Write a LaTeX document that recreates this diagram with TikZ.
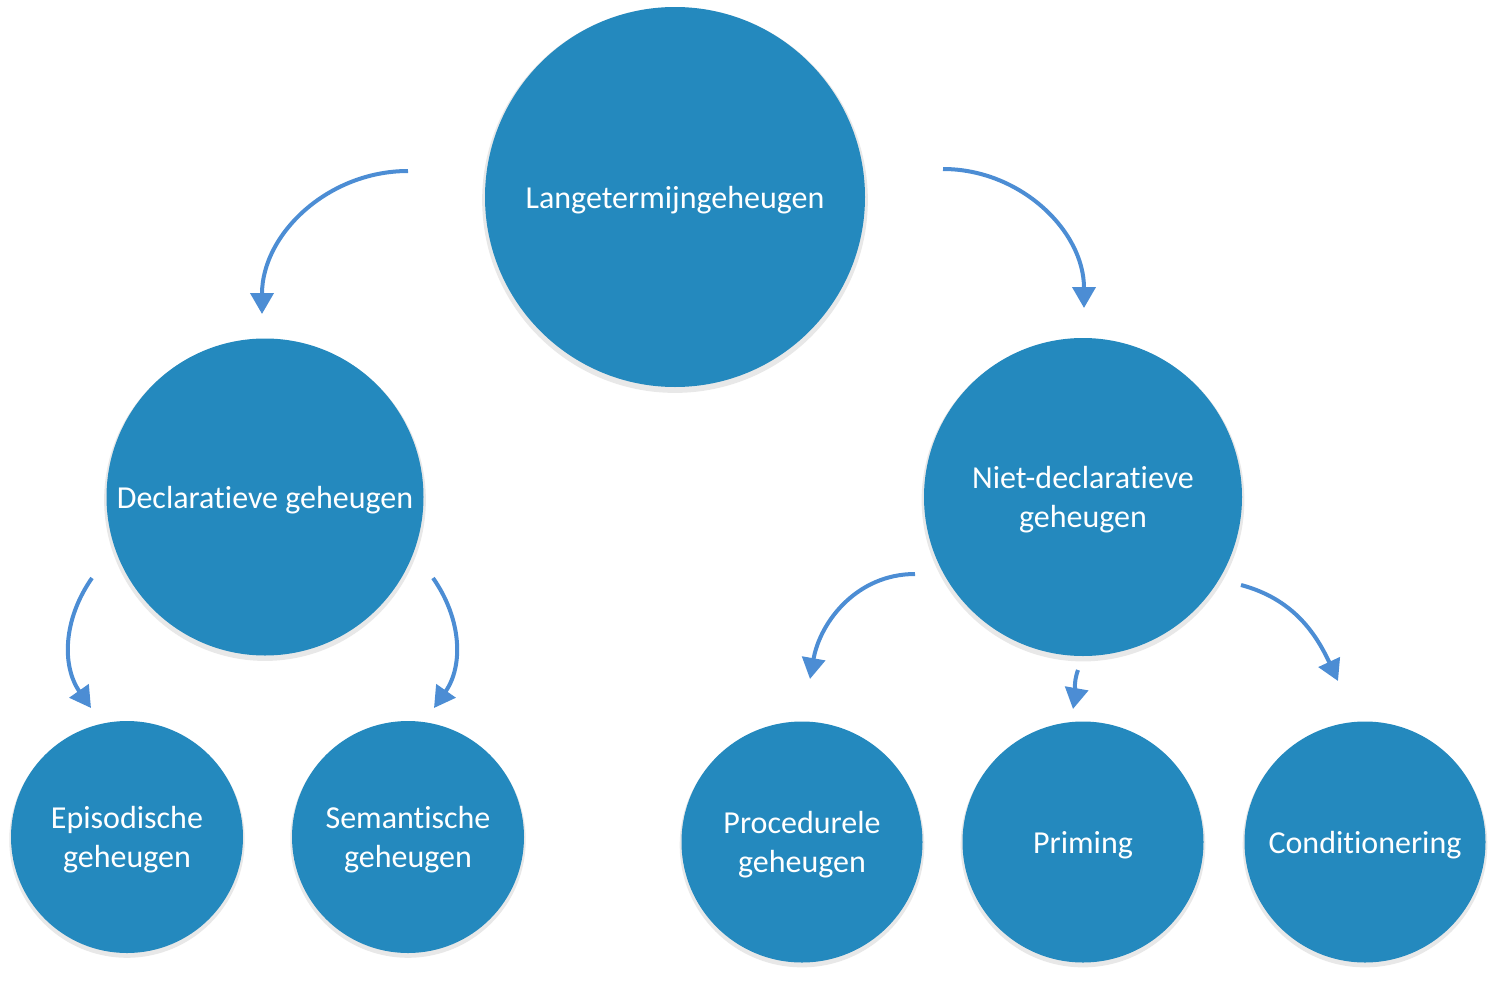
\documentclass[tikz,border=0pt]{standalone}
\usepackage{fontspec}
\setmainfont{Carlito}[Ligatures=NoCommon,RawFeature={-liga;-clig;-dlig}]
\usetikzlibrary{arrows.meta,shadows}
\definecolor{circblue}{RGB}{36,137,190}
\definecolor{arrblue}{RGB}{76,141,212}
\newcommand\myNoLig{\kern0pt}
\begin{document}
\begin{tikzpicture}[x=1pt,y=-1pt,
  bubble/.style={circle,fill=circblue,inner sep=0pt,align=center,text=white,
    text depth=0pt,
    font=\fontsize{32}{39}\selectfont,
    drop shadow={shadow xshift=0pt,shadow yshift=-3pt,opacity=0.18,shadow scale=1.015}},
  link/.style={draw=arrblue,line width=4pt,-{Triangle[length=21pt,width=23pt]}}]
\useasboundingbox (0,0) rectangle (1500,983);
\node[bubble,minimum size=380pt] (ltm) at (675,197) {Langetermijngeheugen};
\node[bubble,minimum size=317pt] (decl) at (265,497) {Declarat\myNoLig ieve geheugen};
\node[bubble,minimum size=318pt] (ndecl) at (1083,497) {Niet-declarat\myNoLig ieve\\geheugen};
\node[bubble,minimum size=232pt] (epi) at (127,837) {Episodische\\geheugen};
\node[bubble,minimum size=232pt] (sem) at (408,837) {Semant\myNoLig ische\\geheugen};
\node[bubble,minimum size=241pt] (proc) at (802,842) {Procedurele\\geheugen};
\node[bubble,minimum size=241pt] (prim) at (1083,842) {Priming};
\node[bubble,minimum size=241pt] (cond) at (1365,842) {Condit\myNoLig ionering};
% arrow end points
\coordinate (a1s) at (408,171); \coordinate (a1e) at (262,314);
\coordinate (a2s) at (943,169); \coordinate (a2e) at (1084,308);
\coordinate (a3s) at (92,578);  \coordinate (a3e) at (91,708);
\coordinate (a4s) at (433,578); \coordinate (a4e) at (434,708);
\coordinate (a5s) at (915,574); \coordinate (a5e) at (810,679);
\coordinate (a6s) at (1078,670); \coordinate (a6e) at (1073,709);
\coordinate (a7s) at (1241,585); \coordinate (a7e) at (1338,681);
\draw[link] (a1s) to[out=180,in=90] (a1e);
\draw[link] (a2s) to[out=0,in=90] (a2e);
\draw[link] (a3s) to[out=-125,in=125] (a3e);
\draw[link] (a4s) to[out=-55,in=55] (a4e);
\draw[link] (a5s) to[out=180,in=80] (a5e);
\draw[link] (a6s) to[out=-110,in=80] (a6e);
\draw[link] (a7s) to[out=-15,in=115] (a7e);
\end{tikzpicture}
\end{document}
